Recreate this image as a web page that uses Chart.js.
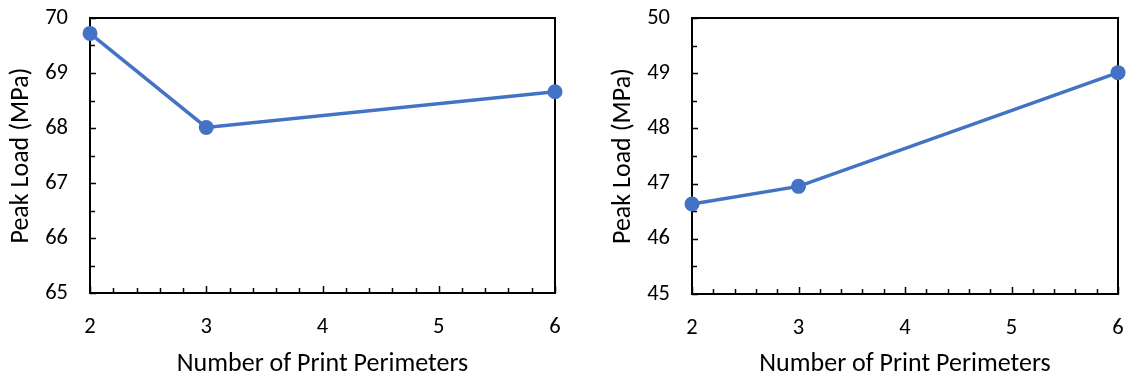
<!DOCTYPE html>
<html>
<head>
<meta charset="utf-8">
<script src="https://cdn.jsdelivr.net/npm/chart.js@4.4.0/dist/chart.umd.min.js"></script>
<style>
  body { margin: 0; background: #fff; }
  .wrap { display: flex; width: 1128px; height: 381px; }
  canvas { display: block; }
</style>
</head>
<body>
<div class="wrap">
  <canvas id="left" width="564" height="381"></canvas>
  <canvas id="right" width="564" height="381"></canvas>
</div>
<script>
// data
const perimeters = [2, 3, 6];
const peakLoadLeft = [69.72, 68.01, 68.66];
const peakLoadRight = [46.63, 46.95, 49.01];
const xRange = [2, 6];
const leftRange = [65, 70];
const rightRange = [45, 50];

const blue = '#4472C4';
const fontFamily = 'Carlito, Calibri, Lato, sans-serif';

// box round the plot plus inward tick marks (Excel style)
const frameTicks = {
    id: 'frameTicks',
    beforeDatasetsDraw(chart) {
        const { ctx, chartArea: a, scales } = chart;
        const x = scales.x, y = scales.y;
        ctx.save();
        ctx.strokeStyle = '#000';
        ctx.lineWidth = 2;
        ctx.strokeRect(a.left, a.top, a.right - a.left, a.bottom - a.top);

        ctx.lineWidth = 1.5;
        ctx.beginPath();
        // x ticks: major every 1, minor every 0.2
        for (let i = 0; i <= (x.max - x.min) * 5; i++) {
            const v = x.min + i * 0.2;
            const px = Math.round(x.getPixelForValue(v)) + 0.5;
            const len = i % 5 === 0 ? 7 : 5;
            ctx.moveTo(px, a.bottom);
            ctx.lineTo(px, a.bottom - len);
        }
        // y ticks: major every 1, minor every 0.5
        for (let i = 0; i <= (y.max - y.min) * 2; i++) {
            const v = y.min + i * 0.5;
            const py = Math.round(y.getPixelForValue(v)) + 0.5;
            const len = i % 2 === 0 ? 6 : 5;
            ctx.moveTo(a.left, py);
            ctx.lineTo(a.left + len, py);
        }
        ctx.stroke();
        ctx.restore();
    }
};

function makeChart(id, values, yRange, padLeft, padRight, xHeight) {
    return new Chart(document.getElementById(id), {
        type: 'line',
        data: {
            datasets: [{
                data: perimeters.map((p, i) => ({ x: p, y: values[i] })),
                borderColor: blue,
                backgroundColor: blue,
                borderWidth: 3.5,
                pointRadius: 7.5,
                pointHoverRadius: 7.5,
                pointBorderWidth: 0,
                tension: 0,
                clip: false,
            }]
        },
        options: {
            responsive: false,
            animation: false,
            layout: { padding: { left: padLeft, right: padRight, top: 18, bottom: 0 } },
            plugins: {
                legend: { display: false },
                tooltip: { enabled: false },
            },
            scales: {
                x: {
                    type: 'linear',
                    min: xRange[0],
                    max: xRange[1],
                    grid: { display: false, drawTicks: false },
                    border: { display: false },
                    ticks: {
                        stepSize: 1,
                        padding: 21,
                        color: '#000',
                        font: { family: fontFamily, size: 22.5 },
                    },
                    title: {
                        display: true,
                        text: 'Number of Print Perimeters',
                        color: '#000',
                        font: { family: fontFamily, size: 26 },
                        padding: { top: 0, bottom: 1 },
                    },
                    afterFit(scale) {
                        scale.height = xHeight;
                        scale.paddingLeft = 0;
                        scale.paddingRight = 0;
                    },
                },
                y: {
                    min: yRange[0],
                    max: yRange[1],
                    grid: { display: false, drawTicks: false },
                    border: { display: false },
                    ticks: {
                        stepSize: 1,
                        padding: 22,
                        color: '#000',
                        font: { family: fontFamily, size: 22.5 },
                    },
                    title: {
                        display: true,
                        text: 'Peak Load (MPa)',
                        color: '#000',
                        font: { family: fontFamily, size: 26 },
                        padding: { top: 6, bottom: 0 },
                    },
                    afterFit(scale) {
                        scale.width = 90;
                        scale.paddingTop = 0;
                        scale.paddingBottom = 0;
                    },
                }
            }
        },
        plugins: [frameTicks]
    });
}

makeChart('left', peakLoadLeft, leftRange, 0, 9, 88);
makeChart('right', peakLoadRight, rightRange, 38, 10, 87);
</script>
</body>
</html>
